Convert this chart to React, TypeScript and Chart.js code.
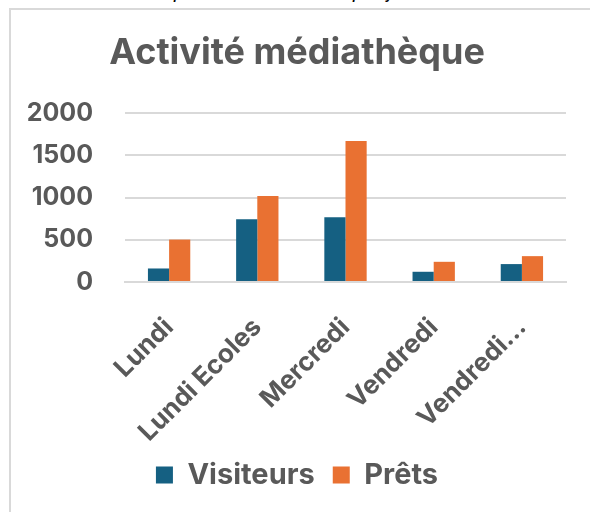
import { useEffect, useRef } from "react";
import { Chart, registerables } from "chart.js";

Chart.register(...registerables);

const categories = ["Lundi", "Lundi Ecoles", "Mercredi", "Vendredi", "Vendredi…"];
const visiteurs = [160, 743, 766, 121, 212];
const prets = [502, 1018, 1670, 239, 306];
const seriesNames = ["Visiteurs", "Prêts"];
const yMin = 0;
const yMax = 2000;
const yStep = 500;
const chartTitle = "Activité médiathèque";
const captionText = "Le nombre de prêts et de visiteurs par jour d'accueil";

const FONT = "Inter, 'Liberation Sans', Arial, sans-serif";
const GREY = "#595959";
const GRID = "#d9d9d9";

export default function App() {
  const ref = useRef<HTMLCanvasElement | null>(null);

  useEffect(() => {
    if (!ref.current) return;
    const chart = new Chart(ref.current, {
      type: "bar",
      data: {
        labels: categories,
        datasets: [
          {
            label: seriesNames[0],
            data: visiteurs,
            backgroundColor: "#156082",
            categoryPercentage: 0.48,
            barPercentage: 1,
          },
          {
            label: seriesNames[1],
            data: prets,
            backgroundColor: "#E97132",
            categoryPercentage: 0.48,
            barPercentage: 1,
          },
        ],
      },
      options: {
        animation: false,
        responsive: false,
        maintainAspectRatio: false,
        layout: { padding: { left: 28, right: 24, top: 0, bottom: 12.5 } },
        plugins: {
          title: {
            display: true,
            text: chartTitle,
            color: GREY,
            font: { family: FONT, size: 36, weight: "bold", lineHeight: 1.2 },
            padding: { top: 32, bottom: 37.8 },
          },
          legend: {
            position: "bottom",
            labels: {
              color: GREY,
              font: { family: FONT, size: 29, weight: "bold" },
              boxWidth: 17,
              boxHeight: 17,
              padding: 18,
            },
          },
          tooltip: { enabled: false },
        },
        scales: {
          x: {
            grid: { display: false },
            border: { display: true, color: GRID, width: 2 },
            ticks: {
              color: GREY,
              font: { family: FONT, size: 26, weight: "bold" },
              minRotation: 45,
              maxRotation: 45,
              padding: 22,
              autoSkip: false,
            },
            afterFit: (scale: any) => {
              scale.height = 160.5;
            },
          },
          y: {
            min: yMin,
            max: yMax,
            grid: { color: GRID, lineWidth: 2, drawTicks: false },
            border: { display: false },
            ticks: {
              stepSize: yStep,
              color: GREY,
              font: { family: FONT, size: 25, weight: "bold" },
              padding: 32,
              callback: (v: any) => String(v),
            },
            afterFit: (scale: any) => {
              scale.width = 97;
            },
          },
        },
      },
    });
    return () => chart.destroy();
  }, []);

  return (
    <div style={{ position: "fixed", inset: 0, overflow: "hidden", background: "#fff" }}>
      <div
        style={{
          position: "absolute",
          left: 45,
          top: -20,
          fontFamily: "'Liberation Sans', Arial, sans-serif",
          fontStyle: "italic",
          fontSize: 20,
          color: "#000",
          whiteSpace: "nowrap",
        }}
      >
        {captionText}
      </div>
      <div
        style={{
          position: "absolute",
          left: 9,
          top: 8,
          width: 700,
          height: 700,
          borderLeft: `2px solid ${GRID}`,
          borderTop: `2px solid ${GRID}`,
          background: "#fff",
        }}
      />
      <canvas
        ref={ref}
        width={590}
        height={512}
        style={{ position: "absolute", left: 0, top: 0, width: 590, height: 512 }}
      />
    </div>
  );
}
